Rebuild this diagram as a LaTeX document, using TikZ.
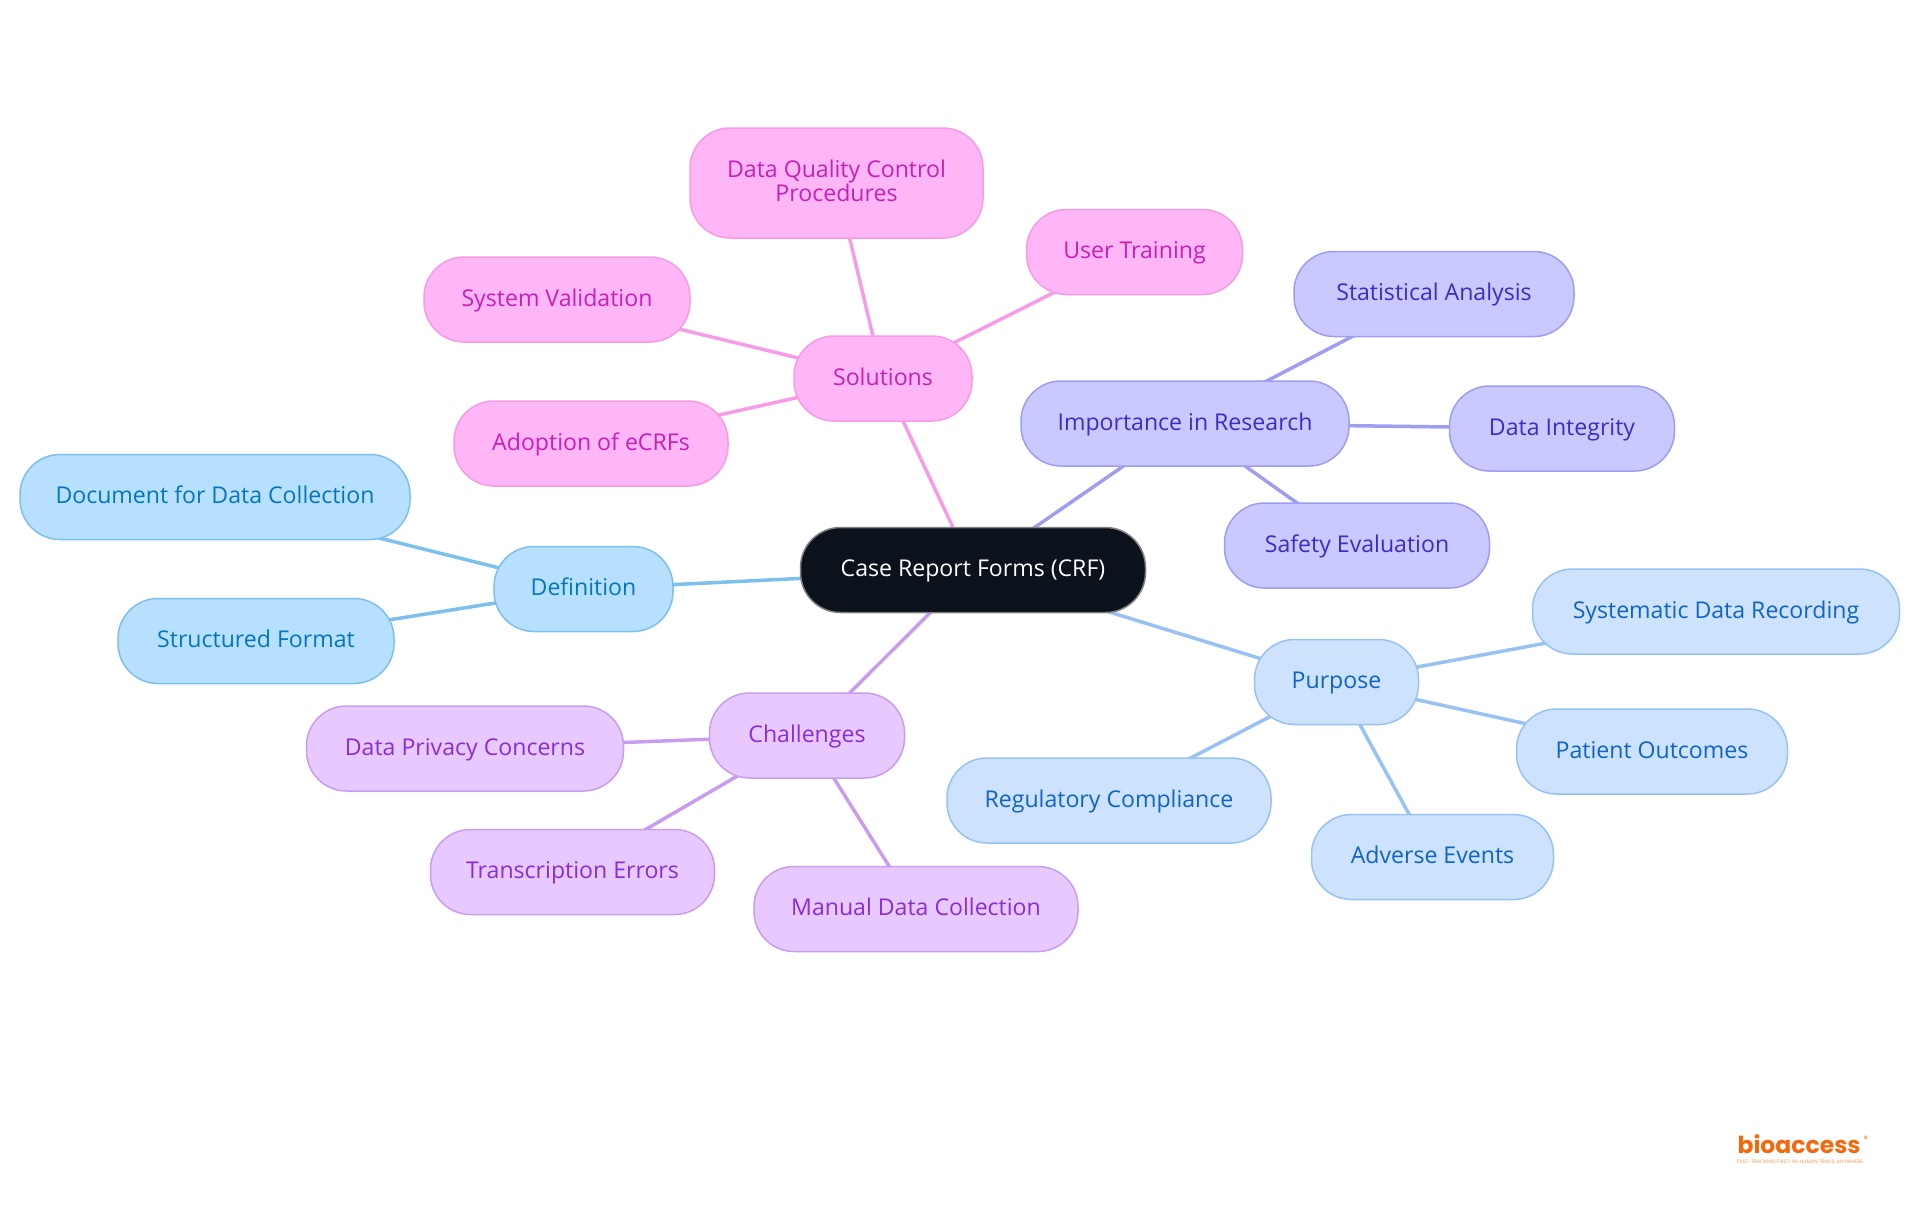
\documentclass[tikz,border=0pt]{standalone}
\usepackage{fontspec}
\usetikzlibrary{backgrounds}
\setmainfont{Open Sans}
\newfontfamily\logofont{Poppins}

\definecolor{rootfill}{HTML}{0B121B}
\definecolor{deffill}{HTML}{B6E0FE}
\definecolor{defline}{HTML}{7CC0F0}
\definecolor{deftext}{HTML}{0476C0}
\definecolor{solfill}{HTML}{FFB6F6}
\definecolor{solline}{HTML}{F79BE6}
\definecolor{soltext}{HTML}{C91FB6}
\definecolor{impfill}{HTML}{C9C9FF}
\definecolor{impline}{HTML}{9D9DF2}
\definecolor{imptext}{HTML}{3A2CC8}
\definecolor{purfill}{HTML}{CDE3FD}
\definecolor{purline}{HTML}{97C2F3}
\definecolor{purtext}{HTML}{0F63C9}
\definecolor{chafill}{HTML}{E7C9FF}
\definecolor{chaline}{HTML}{C99CF0}
\definecolor{chatext}{HTML}{8B2BD9}
\definecolor{logoorange}{HTML}{F26A0F}

\tikzset{
  mapnode/.style={rounded corners=40pt, line width=1.5pt, minimum height=85pt,
    inner sep=0pt, align=center, text height=18pt, text depth=5pt,
    font=\fontsize{23.1}{24.5}\selectfont},
  rootnode/.style={mapnode, draw=gray, fill=rootfill, text=white},
  defnode/.style={mapnode, draw=defline, fill=deffill, text=deftext},
  solnode/.style={mapnode, draw=solline, fill=solfill, text=soltext},
  impnode/.style={mapnode, draw=impline, fill=impfill, text=imptext},
  purnode/.style={mapnode, draw=purline, fill=purfill, text=purtext},
  chanode/.style={mapnode, draw=chaline, fill=chafill, text=chatext},
  link/.style={line width=3.5pt}
}

\begin{document}
\begin{tikzpicture}[x=1pt, y=-1pt]
  \useasboundingbox (0,0) rectangle (1920,1215);

  % Centre
  \node[rootnode, minimum width=345pt] (crf) at (973,570) {Case Report Forms (CRF)};

  % Definition
  \node[defnode, minimum width=179pt] (definition) at (583.5,589) {Definition};
  \node[defnode, minimum width=390pt] (document) at (215,497) {Document for Data Collection};
  \node[defnode, minimum width=276pt] (structured) at (256,641) {Structured Format};

  % Solutions
  \node[solnode, minimum width=293pt, minimum height=110pt, text height=, text depth=5pt] (quality) at (836.5,183) {Data Quality Control\\Procedures};
  \node[solnode, minimum width=178pt] (solutions) at (883,378.5) {Solutions};
  \node[solnode, minimum width=216pt] (training) at (1134.5,252) {User Training};
  \node[solnode, minimum width=266pt] (validation) at (557,299.5) {System Validation};
  \node[solnode, minimum width=274pt] (adoption) at (591,443.5) {Adoption of eCRFs};

  % Importance in Research
  \node[impnode, minimum width=328pt] (importance) at (1185,423.5) {Importance in Research};
  \node[impnode, minimum width=280pt] (statistical) at (1434,294) {Statistical Analysis};
  \node[impnode, minimum width=225pt] (integrity) at (1562,428.5) {Data Integrity};
  \node[impnode, minimum width=265pt] (safety) at (1357,545.5) {Safety Evaluation};

  % Purpose
  \node[purnode, minimum width=164pt] (purpose) at (1336.5,682) {Purpose};
  \node[purnode, minimum width=367pt] (systematic) at (1716,611.5) {Systematic Data Recording};
  \node[purnode, minimum width=271pt] (patient) at (1652,751.5) {Patient Outcomes};
  \node[purnode, minimum width=242pt] (adverse) at (1432.5,857) {Adverse Events};
  \node[purnode, minimum width=324pt] (regulatory) at (1109,800.5) {Regulatory Compliance};

  % Challenges
  \node[chanode, minimum width=195pt] (challenges) at (807,735.5) {Challenges};
  \node[chanode, minimum width=317pt] (privacy) at (465,748.5) {Data Privacy Concerns};
  \node[chanode, minimum width=284pt] (transcription) at (572.5,872) {Transcription Errors};
  \node[chanode, minimum width=324pt] (manual) at (916,909) {Manual Data Collection};

  % Connectors
  \begin{scope}[on background layer]
    \draw[link, defline] (crf.center) -- (definition.center);
    \draw[link, defline] (definition.center) -- (document.center);
    \draw[link, defline] (definition.center) -- (structured.center);
    \draw[link, solline] (crf.center) -- (solutions.center);
    \draw[link, solline] (solutions.center) -- (quality.center);
    \draw[link, solline] (solutions.center) -- (training.center);
    \draw[link, solline] (solutions.center) -- (validation.center);
    \draw[link, solline] (solutions.center) -- (adoption.center);
    \draw[link, impline] (crf.center) -- (importance.center);
    \draw[link, impline] (importance.center) -- (statistical.center);
    \draw[link, impline] (importance.center) -- (integrity.center);
    \draw[link, impline] (importance.center) -- (safety.center);
    \draw[link, purline] (crf.center) -- (purpose.center);
    \draw[link, purline] (purpose.center) -- (systematic.center);
    \draw[link, purline] (purpose.center) -- (patient.center);
    \draw[link, purline] (purpose.center) -- (adverse.center);
    \draw[link, purline] (purpose.center) -- (regulatory.center);
    \draw[link, chaline] (crf.center) -- (challenges.center);
    \draw[link, chaline] (challenges.center) -- (privacy.center);
    \draw[link, chaline] (challenges.center) -- (transcription.center);
    \draw[link, chaline] (challenges.center) -- (manual.center);
  \end{scope}

  % Logo
  \node[text=logoorange, inner sep=0pt, font=\logofont\bfseries\fontsize{23.5}{24}\selectfont] (logo) at (1799,1144) {bioaccess};
  \node[text=logoorange, inner sep=0pt, font=\logofont\fontsize{9}{9}\selectfont] (reg) at (1866,1139) {®};
  \node[text=logoorange!70, inner sep=0pt, font=\logofont\fontsize{5}{5}\selectfont] (tagline) at (1800,1162) {FAST-TRACKING FIRST-IN-HUMAN TRIALS, ANYWHERE};
\end{tikzpicture}
\end{document}
